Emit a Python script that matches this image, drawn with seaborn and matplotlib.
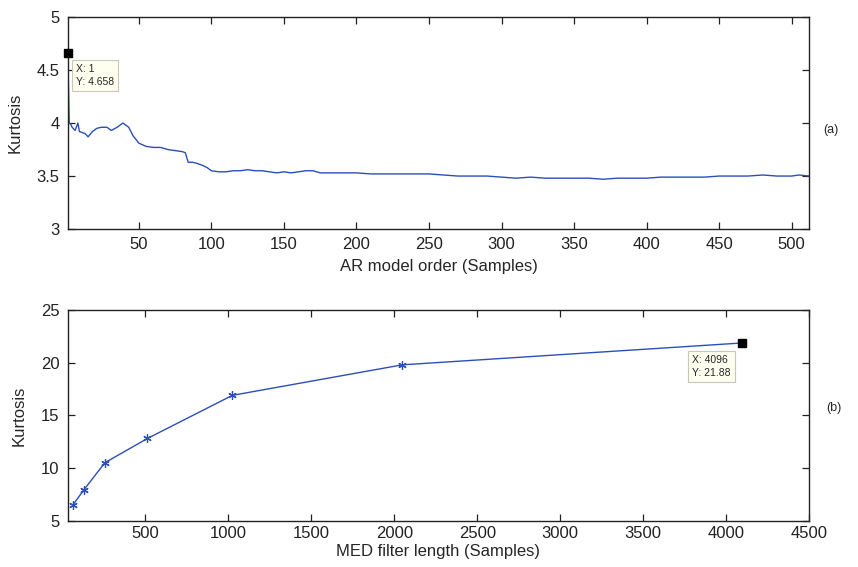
import matplotlib
matplotlib.use("Agg")
import matplotlib.pyplot as plt
import seaborn as sns
import pandas as pd

# AR model order vs kurtosis
ar_order = [1, 2, 3, 4, 6, 8, 9, 11, 13, 15, 18, 21, 24, 28, 31, 35, 39, 43, 46,
            50, 55, 60, 65, 70, 75, 80, 82, 84, 87, 90, 94, 97, 100, 105, 110,
            115, 120, 125, 130, 135, 140, 145, 150, 155, 160, 165, 170, 175, 180,
            190, 200, 210, 220, 230, 240, 250, 260, 270, 280, 290, 300, 310, 320,
            330, 340, 350, 360, 370, 380, 390, 400, 410, 420, 430, 440, 450, 460,
            470, 480, 490, 500, 505, 512]
ar_kurt = [4.658, 4.00, 3.99, 3.96, 3.93, 4.00, 3.92, 3.91, 3.90, 3.87, 3.92, 3.95,
           3.96, 3.96, 3.93, 3.96, 4.00, 3.96, 3.88, 3.81, 3.78, 3.77, 3.77, 3.75,
           3.74, 3.73, 3.72, 3.63, 3.63, 3.62, 3.60, 3.58, 3.55, 3.54, 3.54,
           3.55, 3.55, 3.56, 3.55, 3.55, 3.54, 3.53, 3.54, 3.53, 3.54, 3.55, 3.55,
           3.53, 3.53, 3.53, 3.53, 3.52, 3.52, 3.52, 3.52, 3.52, 3.51, 3.50, 3.50,
           3.50, 3.49, 3.48, 3.49, 3.48, 3.48, 3.48, 3.48, 3.47, 3.48, 3.48, 3.48,
           3.49, 3.49, 3.49, 3.49, 3.50, 3.50, 3.50, 3.51, 3.50, 3.50, 3.51, 3.50]

# MED filter length vs kurtosis
med_len = [64, 128, 256, 512, 1024, 2048, 4096]
med_kurt = [6.5, 7.9, 10.5, 12.8, 16.9, 19.8, 21.88]

LINE_COLOR = "#2b4fb8"

sns.set_theme(style="white")
plt.rcParams['font.family'] = ['Liberation Sans', 'DejaVu Sans']

fig = plt.figure(figsize=(8.58, 5.67), dpi=100)
ax1 = fig.add_axes([0.079, 0.596, 0.864, 0.374])
ax2 = fig.add_axes([0.079, 0.082, 0.864, 0.371])

df_ar = pd.DataFrame({"order": ar_order, "kurt": ar_kurt})
df_med = pd.DataFrame({"length": med_len, "kurt": med_kurt})

sns.lineplot(data=df_ar, x="order", y="kurt", ax=ax1, color=LINE_COLOR, linewidth=1.0)
sns.lineplot(data=df_med, x="length", y="kurt", ax=ax2, color=LINE_COLOR, linewidth=1.0,
             marker=(6, 2, 0), markersize=6, markeredgecolor=LINE_COLOR, markeredgewidth=0.9)

ax1.set_xlim(1, 512)
ax1.set_ylim(3, 5)
ax1.set_xticks(range(50, 501, 50))
ax1.set_yticks([3, 3.5, 4, 4.5, 5])
ax1.set_yticklabels(["3", "3.5", "4", "4.5", "5"])
ax1.set_xlabel("AR model order (Samples)", fontsize=12, labelpad=5)

ax2.set_xlim(32, 4500)
ax2.set_ylim(5, 25)
ax2.set_xticks(range(500, 4501, 500))
ax2.set_yticks(range(5, 26, 5))
ax2.set_xlabel("MED filter length (Samples)", fontsize=12, labelpad=2)

for ax in (ax1, ax2):
    ax.set_ylabel("Kurtosis", fontsize=12, labelpad=10)
    ax.tick_params(direction="in", length=5, width=0.9, bottom=True, left=True,
                   top=True, right=True, labelsize=12, colors="#222222", pad=6)
    for s in ax.spines.values():
        s.set_color("#222222")
        s.set_linewidth(1.0)
ax2.tick_params(axis="x", pad=4)

# datatips
ax1.plot([1], [4.658], marker="s", color="black", markersize=6, clip_on=False, zorder=5)
ax1.annotate("X: 1\nY: 4.658", xy=(1, 4.658), xytext=(6, -16), textcoords="offset points",
             fontsize=7.5, va="center", ha="left", linespacing=1.4,
             bbox=dict(boxstyle="square,pad=0.4", fc="#fffff0", ec="#c8c8b8", lw=0.8))
ax2.plot([4096], [21.88], marker="s", color="black", markersize=6, zorder=5)
ax2.annotate("X: 4096\nY: 21.88", xy=(4096, 21.88), xytext=(-36, -17), textcoords="offset points",
             fontsize=7.5, va="center", ha="left", linespacing=1.4,
             bbox=dict(boxstyle="square,pad=0.4", fc="#fffff0", ec="#c8c8b8", lw=0.8))

fig.text(0.968, 0.771, "(a)", fontsize=9, va="center", ha="center")
fig.text(0.972, 0.280, "(b)", fontsize=9, va="center", ha="center")

fig.savefig("out.png", dpi=100, facecolor="white")
